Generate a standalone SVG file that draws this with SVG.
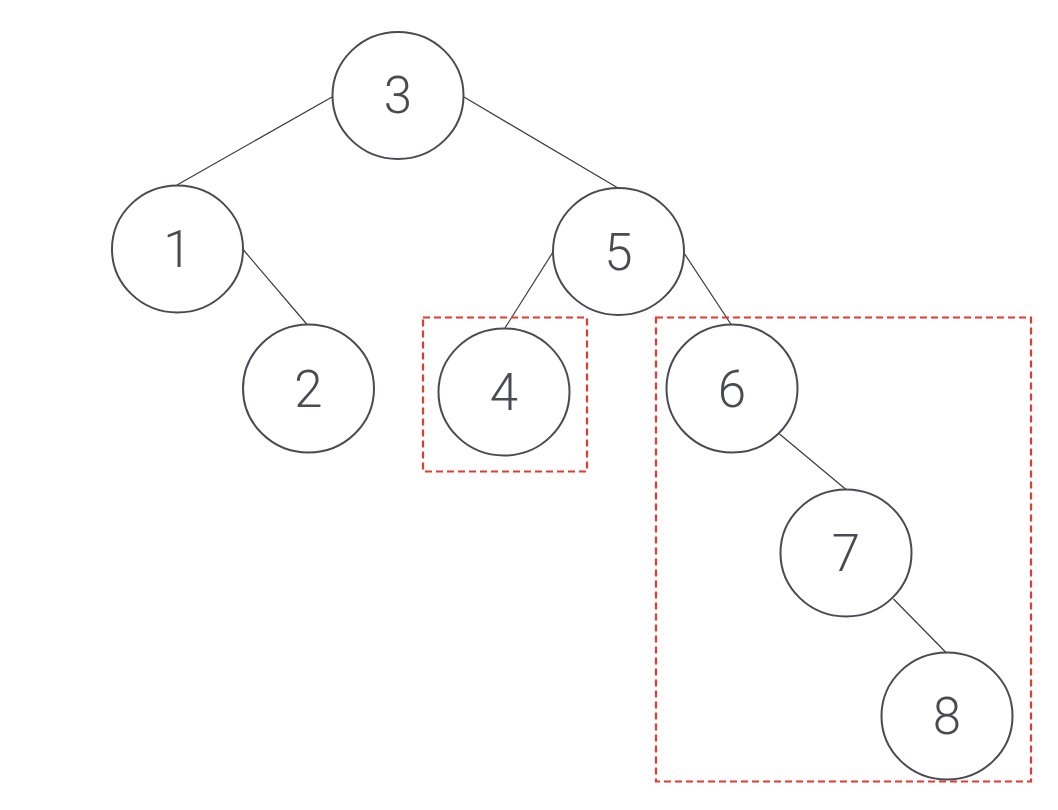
<svg xmlns="http://www.w3.org/2000/svg" width="1058" height="810" viewBox="0 0 1058 810">
<style>
.node ellipse{fill:#ffffff;stroke:#4a4a55;stroke-width:2}
.node text{font-family:Roboto,"Liberation Sans",sans-serif;font-weight:300;font-size:51px;fill:#4a4a55;text-anchor:middle}
.edges line{stroke:#3a3a44;stroke-width:1.2}
.hl{fill:none;stroke:#e8392f;stroke-width:2.2;stroke-dasharray:7 4}
</style>
<rect width="1058" height="810" fill="#ffffff"/>
<g id="connectors" class="edges">
<line x1="332" y1="97" x2="177" y2="185"/>
<line x1="464" y1="97" x2="618" y2="188"/>
<line x1="243.5" y1="250" x2="307.5" y2="325"/>
<line x1="553" y1="252" x2="505" y2="328"/>
<line x1="684" y1="253" x2="731.5" y2="325"/>
<line x1="779.5" y1="434" x2="846" y2="489.5"/>
<line x1="893.5" y1="599" x2="946" y2="652.5"/>
</g>
<g id="highlight-4"><rect class="hl" x="423" y="317.5" width="164" height="154"/></g>
<g id="highlight-6"><rect class="hl" x="656" y="317.5" width="375" height="464"/></g>
<g id="node-3" class="node"><ellipse cx="398" cy="95.5" rx="65.5" ry="63.5"/><text x="398" y="113">3</text></g>
<g id="node-1" class="node"><ellipse cx="177.5" cy="249" rx="65.5" ry="63.5"/><text x="177.5" y="267">1</text></g>
<g id="node-5" class="node"><ellipse cx="618.5" cy="251.5" rx="65.5" ry="63.5"/><text x="618.5" y="269.5">5</text></g>
<g id="node-2" class="node"><ellipse cx="308.5" cy="388.5" rx="65.5" ry="64"/><text x="308.5" y="406.5">2</text></g>
<g id="node-4" class="node"><ellipse cx="504" cy="392" rx="65.5" ry="63.5"/><text x="504" y="410">4</text></g>
<g id="node-6" class="node"><ellipse cx="732" cy="388.5" rx="65.5" ry="64"/><text x="732" y="406.5">6</text></g>
<g id="node-7" class="node"><ellipse cx="846" cy="553" rx="65.5" ry="63.5"/><text x="846" y="571">7</text></g>
<g id="node-8" class="node"><ellipse cx="947" cy="716" rx="65.5" ry="63.5"/><text x="947" y="734">8</text></g>
</svg>
